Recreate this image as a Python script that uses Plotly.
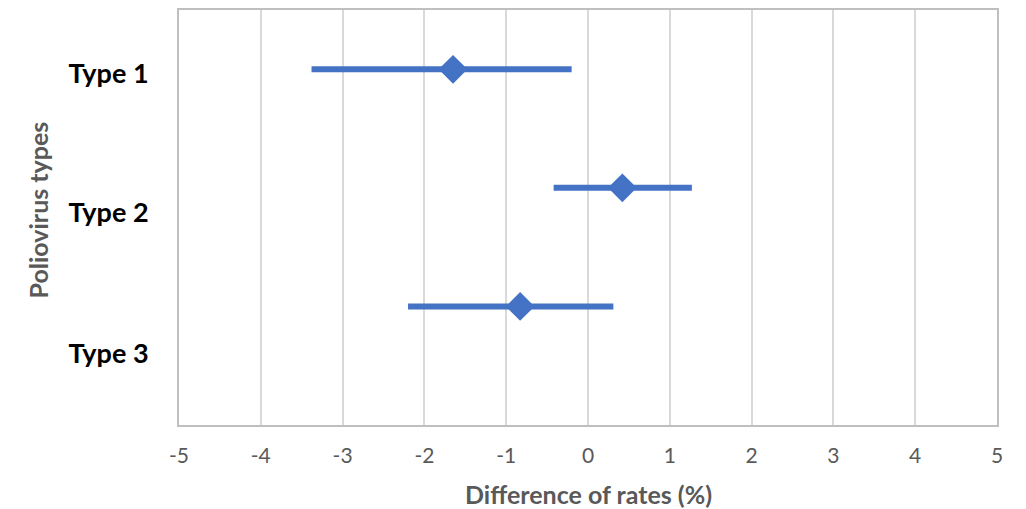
import plotly.graph_objects as go

types = ["Type 1", "Type 2", "Type 3"]
diff = [-1.65, 0.42, -0.83]
ci_low = [-3.38, -0.42, -2.20]
ci_high = [-0.20, 1.27, 0.31]
y_pos = [3, 2, 1]
label_pos = [2.96, 1.79, 0.60]
x_ticks = [-5, -4, -3, -2, -1, 0, 1, 2, 3, 4, 5]

blue = "#4472C4"
gray_text = "#595959"
fig = go.Figure()
fig.add_trace(go.Scatter(
    x=diff, y=y_pos, mode="markers",
    marker=dict(symbol="diamond", size=20, color=blue, line=dict(color=blue, width=2)),
    error_x=dict(type="data", symmetric=False,
                 array=[h - d for h, d in zip(ci_high, diff)],
                 arrayminus=[d - l for d, l in zip(diff, ci_low)],
                 color=blue, thickness=6, width=0),
    showlegend=False, hoverinfo="skip",
))

fig.update_layout(
    width=1018, height=501,
    margin=dict(l=171, r=29, t=0, b=84),
    paper_bgcolor="white", plot_bgcolor="white",
    font=dict(family="Lato", color=gray_text),
    annotations=[
        dict(text="<b>Difference of rates (%)</b>", xref="paper", yref="paper",
             x=0.5, y=0, xanchor="center", yanchor="middle", yshift=-69,
             showarrow=False, font=dict(size=25, color=gray_text, family="Lato")),
        dict(text="<b>Poliovirus types</b>", xref="paper", yref="paper",
             x=0, y=0.5, xanchor="center", yanchor="middle", xshift=-142, yshift=7,
             textangle=-90, showarrow=False,
             font=dict(size=25, color=gray_text, family="Lato")),
    ],
)
fig.update_xaxes(
    range=[-5, 5], tickvals=x_ticks, ticktext=[str(v) for v in x_ticks],
    showgrid=True, gridcolor="#d9d9d9", gridwidth=2,
    showline=True, linecolor="#bfbfbf", linewidth=2, mirror=True,
    zeroline=False, ticks="", ticklabelstandoff=11,
    tickfont=dict(size=21, color=gray_text, family="Lato"),
)
fig.update_yaxes(
    range=[0, 3.5], tickvals=label_pos, ticktext=["<b>" + t + "</b>" for t in types],
    showgrid=False, zeroline=False,
    showline=True, linecolor="#bfbfbf", linewidth=2, mirror=True,
    ticks="", ticklabelstandoff=23,
    tickfont=dict(size=27, color="black", family="Lato"),
)
fig.write_html("out.html")
